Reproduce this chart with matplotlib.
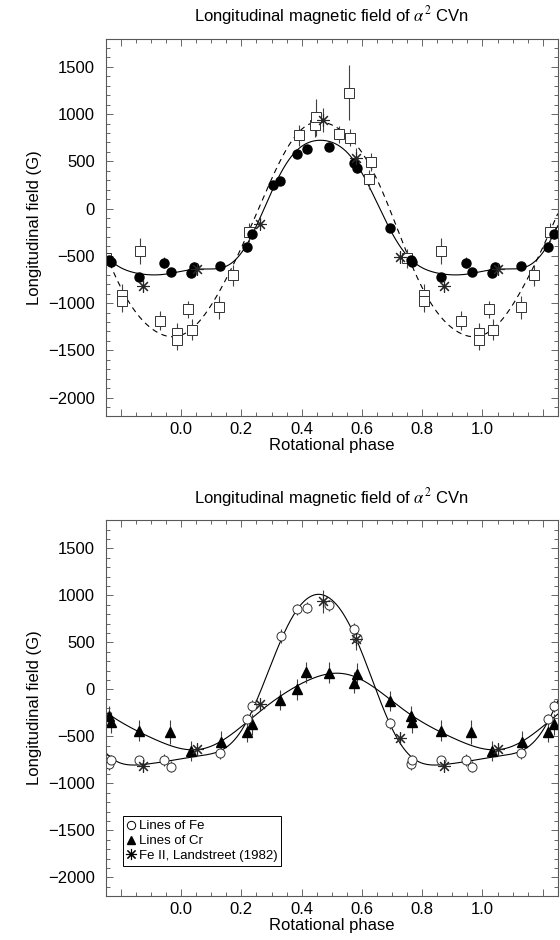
import numpy as np
import matplotlib.pyplot as plt
from matplotlib.lines import Line2D
from matplotlib.ticker import MultipleLocator, FixedLocator

plt.rcParams['font.family'] = ['Liberation Sans', 'DejaVu Sans']
plt.rcParams['mathtext.fontset'] = 'stix'

# ---- top panel data (phase in [0,1), field in G, error) ----
fe_ph = [0.032, 0.043, 0.129, 0.217, 0.236, 0.306, 0.328, 0.385, 0.418, 0.492,
         0.573, 0.584, 0.694, 0.762, 0.767, 0.861, 0.944, 0.966]
fe_b = [-684, -614, -606, -411, -270, 252, 290, 582, 635, 652,
        486, 429, -202, -546, -564, -720, -571, -670]
fe_err = [40, 50, 40, 50, 50, 40, 40, 40, 40, 40,
          50, 50, 40, 40, 40, 40, 60, 40]

sq_ph = [0.022, 0.035, 0.127, 0.172, 0.224, 0.391, 0.444, 0.449, 0.523, 0.556,
         0.559, 0.625, 0.630, 0.750, 0.805, 0.805, 0.863, 0.930, 0.987, 0.987]
sq_b = [-1067, -1280, -1045, -707, -252, 777, 883, 965, 787, 1227,
        752, 309, 493, -525, -910, -980, -447, -1185, -1316, -1387]
sq_err = [90, 110, 120, 110, 100, 110, 120, 200, 90, 290,
          90, 100, 100, 100, 110, 110, 140, 100, 100, 110]

ls_ph = [0.051, 0.262, 0.470, 0.580, 0.725, 0.872]
ls_b = [-640, -158, 936, 533, -515, -820]
ls_err = [60, 60, 125, 110, 60, 60]

# ---- bottom panel data ----
fe2_ph = [0.129, 0.217, 0.236, 0.330, 0.385, 0.418, 0.492, 0.573, 0.584, 0.694,
          0.762, 0.767, 0.861, 0.944, 0.966]
fe2_b = [-681, -319, -177, 567, 851, 869, 894, 638, 550, -362,
         -798, -755, -755, -752, -823]
fe2_err = [60, 60, 60, 70, 60, 60, 60, 70, 60, 60,
           60, 60, 50, 60, 60]

cr_ph = [0.032, 0.131, 0.217, 0.236, 0.327, 0.383, 0.416, 0.490, 0.573, 0.584,
         0.694, 0.762, 0.767, 0.861, 0.962]
cr_b = [-656, -557, -454, -372, -113, 0, 180, 177, 71, 165,
        -124, -284, -352, -440, -454]
cr_err = [110, 110, 110, 110, 110, 110, 110, 110, 110, 110,
          110, 110, 110, 110, 130]

# ---- fitted curves ----
top_solid_ph = [-0.24, -0.14, 0.0, 0.13, 0.198, 0.236, 0.306, 0.385, 0.418, 0.46,
                0.49, 0.573, 0.694, 0.76, 0.857, 0.95, 1.125, 1.217]
top_solid_b = [-540, -677, -680, -624, -482, -270, 250, 600, 670, 740,
               735, 486, -200, -545, -690, -685, -620, -411]

top_dash_ph = [-0.238, -0.178, -0.122, -0.045, 0.0, 0.043, 0.098, 0.153, 0.209, 0.231,
               0.286, 0.341, 0.402, 0.451, 0.501, 0.545, 0.600, 0.656, 0.711, 0.744,
               0.799, 0.877, 0.932, 0.980, 1.075, 1.141, 1.208]
top_dash_b = [-571, -943, -1191, -1333, -1351, -1263, -1050, -766, -376, -199,
              227, 582, 830, 918, 900, 794, 564, 298, -163, -447,
              -837, -1227, -1333, -1351, -1120, -731, -340]

bot_fe_ph = [-0.238, -0.178, -0.123, -0.045, 0.032, 0.131, 0.186, 0.242, 0.286, 0.319,
             0.330, 0.385, 0.429, 0.474, 0.501, 0.556, 0.600, 0.628, 0.694, 0.744,
             0.788, 0.865, 0.954, 1.130, 1.219]
bot_fe_b = [-710, -780, -816, -763, -727, -674, -497, -177, 124, 426,
            532, 869, 976, 1000, 922, 745, 390, 124, -362, -656,
            -780, -809, -750, -640, -319]

bot_cr_ph = [-0.244, -0.139, -0.034, 0.032, 0.131, 0.220, 0.330, 0.418, 0.474, 0.512,
             0.584, 0.694, 0.755, 0.857, 0.959, 1.025, 1.125, 1.219]
bot_cr_b = [-248, -461, -603, -656, -567, -355, -71, 89, 160, 167,
            124, -106, -266, -443, -585, -638, -550, -337]

XMIN, XMAX = -0.25, 1.25


def unfold(ph, b, err):
    ph = np.asarray(ph); b = np.asarray(b); err = np.asarray(err)
    xs, ys, es = [], [], []
    for k in (-1, 0, 1):
        m = (ph + k > XMIN - 0.01) & (ph + k < XMAX + 0.01)
        xs.append(ph[m] + k); ys.append(b[m]); es.append(err[m])
    return np.concatenate(xs), np.concatenate(ys), np.concatenate(es)


def harmonic_curve(ph, b, order=4):
    ph = np.mod(np.asarray(ph, float), 1.0)
    def basis(p):
        cols = [np.ones_like(p)]
        for n in range(1, order + 1):
            cols += [np.cos(2 * np.pi * n * p), np.sin(2 * np.pi * n * p)]
        return np.column_stack(cols)
    coef = np.linalg.lstsq(basis(ph), np.asarray(b, float), rcond=None)[0]
    x = np.linspace(XMIN, XMAX, 600)
    return x, basis(x) @ coef


def style_axes(ax):
    ax.set_xlim(XMIN, XMAX)
    ax.set_ylim(-2200, 1800)
    ax.xaxis.set_major_locator(FixedLocator([-0.2, 0.0, 0.2, 0.4, 0.6, 0.8, 1.0, 1.2]))
    ax.set_xticklabels(['', '0.0', '0.2', '0.4', '0.6', '0.8', '1.0', ''])
    ax.xaxis.set_minor_locator(MultipleLocator(0.05))
    ax.yaxis.set_major_locator(MultipleLocator(500))
    ax.yaxis.set_minor_locator(MultipleLocator(100))
    ax.tick_params(which='both', direction='in', top=True, right=True,
                   labelsize=12, width=0.6, color='0.3')
    ax.tick_params(which='major', length=5)
    ax.tick_params(which='minor', length=3)
    ax.tick_params(axis='y', which='major', pad=8)
    ax.tick_params(axis='x', which='major', pad=4)
    for s in ax.spines.values():
        s.set_linewidth(0.8)
        s.set_color('0.35')
    ax.set_xlabel('Rotational phase', fontsize=12, labelpad=1)
    ax.set_ylabel('Longitudinal field (G)', fontsize=12, labelpad=4)
    ax.set_title(r'Longitudinal magnetic field of $\alpha^2$ CVn', fontsize=12, pad=12)


fig = plt.figure(figsize=(5.6, 9.4), dpi=100)
ax1 = fig.add_axes([0.189, 0.557, 0.807, 0.402])
ax2 = fig.add_axes([0.189, 0.0467, 0.807, 0.400])

star = (8, 2, 0)
eb = dict(ls='none', ecolor='0.25', elinewidth=0.8, capsize=0)

# top panel
x, y = harmonic_curve(top_solid_ph, top_solid_b)
ax1.plot(x, y, 'k-', lw=0.8)
x, y = harmonic_curve(top_dash_ph, top_dash_b)
ax1.plot(x, y, 'k--', lw=0.8, dashes=(5, 4))
x, y, e = unfold(sq_ph, sq_b, sq_err)
ax1.errorbar(x, y, yerr=e, marker='s', ms=7, mfc='white', mec='0.2', mew=0.7, **eb)
x, y, e = unfold(fe_ph, fe_b, fe_err)
ax1.errorbar(x, y, yerr=e, marker='o', ms=6.5, mfc='black', mec='black', **eb)
x, y, e = unfold(ls_ph, ls_b, ls_err)
ax1.errorbar(x, y, yerr=e, marker=star, ms=9, mfc='black', mec='0.15', mew=0.8, **eb)
style_axes(ax1)

# bottom panel
x, y = harmonic_curve(bot_fe_ph, bot_fe_b)
ax2.plot(x, y, 'k-', lw=0.8)
x, y = harmonic_curve(bot_cr_ph, bot_cr_b, order=3)
ax2.plot(x, y, 'k-', lw=0.8)
x, y, e = unfold(cr_ph, cr_b, cr_err)
ax2.errorbar(x, y, yerr=e, marker='^', ms=6.5, mfc='black', mec='black', **eb)
x, y, e = unfold(fe2_ph, fe2_b, fe2_err)
ax2.errorbar(x, y, yerr=e, marker='o', ms=6.5, mfc='white', mec='0.2', mew=0.7, **eb)
x, y, e = unfold(ls_ph, ls_b, ls_err)
ax2.errorbar(x, y, yerr=e, marker=star, ms=9, mfc='black', mec='0.15', mew=0.8, **eb)
style_axes(ax2)

handles = [
    Line2D([], [], ls='none', marker='o', ms=6, mfc='white', mec='black', mew=0.7),
    Line2D([], [], ls='none', marker='^', ms=6, mfc='black', mec='black'),
    Line2D([], [], ls='none', marker=star, ms=8, mec='black', mew=0.8),
]
leg = ax2.legend(handles, ['Lines of Fe', 'Lines of Cr', 'Fe II, Landstreet (1982)'],
                 loc='lower left', bbox_to_anchor=(0.038, 0.08), borderaxespad=0,
                 fontsize=9.5, handlelength=0.6, handletextpad=0.3, borderpad=0.3,
                 labelspacing=0.2, fancybox=False, framealpha=1)
leg.get_frame().set_edgecolor('black')
leg.get_frame().set_linewidth(0.7)

fig.savefig('out.png', dpi=100)
